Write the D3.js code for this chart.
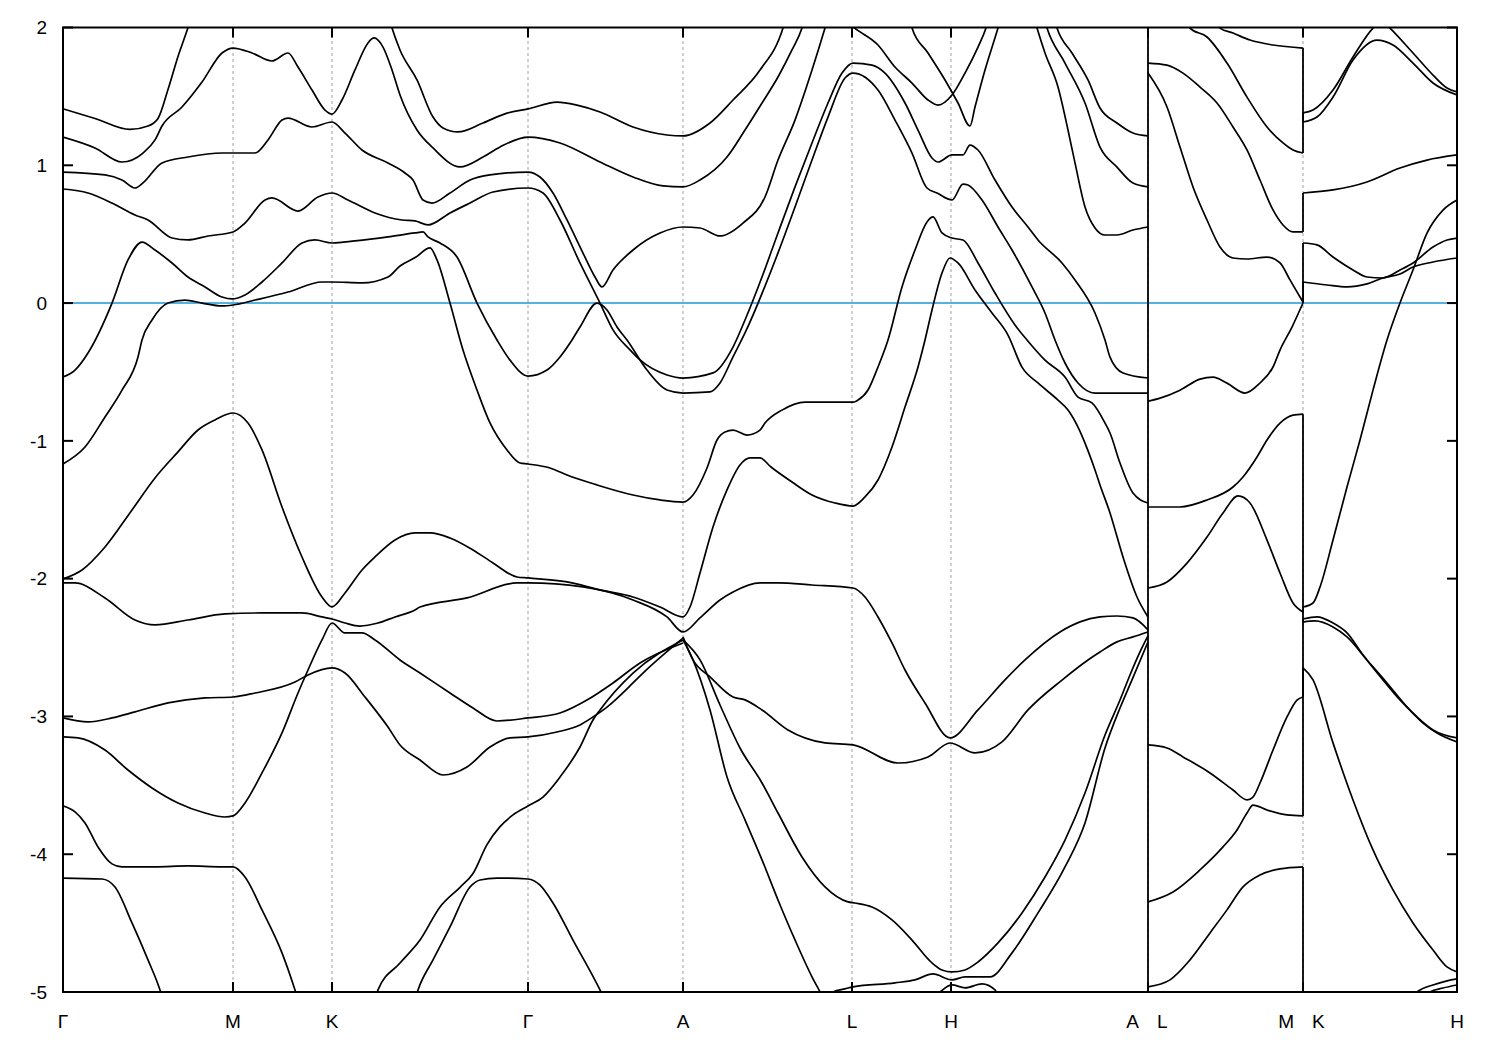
<!DOCTYPE html>
<html><head><meta charset="utf-8">
<script src="https://cdn.jsdelivr.net/npm/d3@7"></script>
<style>body{margin:0;background:#fff}svg{display:block}</style>
</head><body><svg id="chart" width="1500" height="1050"></svg>
<script>
// high-symmetry points along the k-path
const kTicks = [0, 0.170, 0.269, 0.465, 0.620, 0.789, 0.888, 1.085, 1.240, 1.394];
const kLabels = ["Γ", "M", "K", "Γ", "A", "L", "H", "A|L", "M|K", "H"];
const eTicks = [-5, -4, -3, -2, -1, 0, 1, 2];
const eRange = [-5, 2];
const breakFull = [1.085];           // A|L discontinuity
// jumps at the M|K discontinuity: [E at M, E at K]
const mkJumps = [[1.851,1.314],[1.089,1.380],[0.516,0.799],[0.008,0.436],[0.001,0.153],[-0.806,-2.315],[-2.242,-2.206],[-2.859,-2.648],[-3.722,-2.293],[-4.092,-5.3]];

// Γ-M-K-Γ-A-L-H-A bands  [k, E]
const gA01 = [[0,1.41],[.032,1.34],[.067,1.26],[.085,1.285],[.095,1.34],[.105,1.55],[.115,1.79],[.125,2.0],[.128,2.07]];
const gA02 = [[0,1.205],[.032,1.126],[.059,1.024],[.080,1.089],[.092,1.184],[.099,1.285],[.119,1.423],[.139,1.604],[.159,1.815],[.170,1.851],[.189,1.815],[.209,1.757],[.225,1.815],[.235,1.713],[.249,1.546],[.262,1.401],[.269,1.372],[.279,1.474],[.292,1.692],[.305,1.888],[.311,1.924],[.320,1.858],[.329,1.692],[.337,1.510],[.354,1.256],[.370,1.126],[.397,0.988],[.420,1.060],[.437,1.133],[.465,1.205],[.497,1.162],[.537,1.024],[.570,0.915],[.600,0.850],[.620,0.843],[.637,0.893],[.664,1.060],[.682,1.256],[.699,1.452],[.715,1.641],[.729,1.837],[.739,1.996],[.742,2.07]];
const gA03 = [[0,0.951],[.042,0.930],[.059,0.893],[.072,0.835],[.080,0.872],[.099,1.017],[.125,1.060],[.159,1.089],[.170,1.089],[.192,1.089],[.205,1.184],[.219,1.329],[.225,1.343],[.249,1.278],[.269,1.314],[.282,1.234],[.299,1.111],[.325,1.017],[.342,0.944],[.350,0.893],[.360,0.748],[.369,0.726],[.387,0.799],[.407,0.893],[.427,0.930],[.465,0.951],[.477,0.915],[.490,0.799],[.504,0.603],[.520,0.363],[.532,0.189],[.539,0.117],[.550,0.240],[.570,0.385],[.597,0.508],[.620,0.552],[.637,0.545],[.657,0.487],[.680,0.581],[.702,0.770],[.715,1.038],[.732,1.328],[.749,1.691],[.762,1.996],[.765,2.07]];
const gA04 = [[0,0.828],[.025,0.799],[.049,0.726],[.072,0.639],[.085,0.603],[.109,0.472],[.125,0.458],[.145,0.487],[.170,0.516],[.182,0.581],[.202,0.748],[.209,0.763],[.235,0.668],[.255,0.770],[.269,0.799],[.285,0.748],[.312,0.654],[.339,0.603],[.352,0.596],[.365,0.567],[.387,0.654],[.407,0.726],[.430,0.806],[.465,0.835],[.480,0.799],[.497,0.603],[.517,0.291],[.537,0.0],[.550,-0.195],[.567,-0.340],[.577,-0.413],[.604,-0.522],[.620,-0.544],[.650,-0.507],[.670,-0.319],[.682,-0.123],[.699,0.189],[.715,0.509],[.732,0.843],[.749,1.162],[.765,1.452],[.779,1.669],[.790,1.742],[.809,1.727],[.822,1.669],[.842,1.452],[.855,1.256],[.869,1.053],[.875,1.024],[.889,1.075],[.900,1.075],[.907,1.147],[.915,1.111],[.932,0.893],[.949,0.697],[.965,0.552],[.975,0.458],[.999,0.291],[1.012,0.168],[1.032,-0.072],[1.042,-0.268],[1.047,-0.392],[1.060,-0.507],[1.085,-0.544]];
const gA05 = [[0,-0.536],[.012,-0.486],[.025,-0.362],[.049,0.0],[.065,0.313],[.079,0.443],[.092,0.385],[.109,0.291],[.125,0.189],[.142,0.117],[.159,0.044],[.169,0.030],[.182,0.059],[.199,0.153],[.219,0.291],[.239,0.436],[.252,0.458],[.269,0.436],[.292,0.451],[.325,0.480],[.352,0.509],[.360,0.516],[.365,0.480],[.377,0.436],[.394,0.334],[.414,0.0],[.434,-0.268],[.447,-0.414],[.465,-0.530],[.484,-0.486],[.497,-0.391],[.509,-0.268],[.517,-0.174],[.534,0.0],[.544,-0.050],[.554,-0.174],[.564,-0.268],[.584,-0.486],[.604,-0.631],[.620,-0.653],[.647,-0.645],[.657,-0.580],[.670,-0.391],[.682,-0.217],[.715,0.364],[.732,0.697],[.749,1.038],[.765,1.350],[.782,1.633],[.790,1.669],[.815,1.546],[.832,1.328],[.849,1.089],[.864,0.835],[.874,0.799],[.889,0.748],[.900,0.864],[.905,0.857],[.919,0.748],[.935,0.552],[.949,0.385],[.969,0.117],[.982,-0.072],[.992,-0.268],[1.002,-0.435],[1.015,-0.580],[1.032,-0.653],[1.085,-0.653]];
const gA06 = [[0,-1.168],[.022,-1.045],[.042,-0.827],[.059,-0.632],[.075,-0.392],[.079,-0.268],[.089,-0.123],[.105,0.0],[.122,0.022],[.139,0.0],[.159,-0.021],[.170,-0.014],[.192,0.022],[.225,0.080],[.259,0.153],[.269,0.153],[.299,0.146],[.325,0.189],[.337,0.269],[.353,0.334],[.367,0.400],[.374,0.313],[.387,0.0],[.400,-0.341],[.414,-0.631],[.427,-0.870],[.444,-1.066],[.457,-1.161],[.465,-1.168],[.487,-1.197],[.504,-1.248],[.534,-1.320],[.570,-1.393],[.597,-1.429],[.620,-1.444],[.630,-1.393],[.644,-1.197],[.654,-0.994],[.662,-0.936],[.670,-0.922],[.684,-0.958],[.697,-0.922],[.702,-0.871],[.719,-0.777],[.742,-0.719],[.765,-0.719],[.790,-0.719],[.795,-0.704],[.805,-0.631],[.815,-0.464],[.825,-0.268],[.839,0.117],[.852,0.385],[.864,0.589],[.870,0.625],[.879,0.509],[.889,0.472],[.900,0.458],[.915,0.291],[.932,0.073],[.952,-0.159],[.964,-0.268],[.982,-0.414],[1.002,-0.537],[1.015,-0.682],[1.029,-0.725],[1.042,-0.871],[1.047,-0.943],[1.057,-1.161],[1.070,-1.379],[1.085,-1.451]];
const gA07 = [[0,-2.002],[.019,-1.937],[.042,-1.770],[.069,-1.501],[.092,-1.269],[.115,-1.080],[.135,-0.921],[.152,-0.848],[.170,-0.798],[.185,-0.871],[.199,-1.066],[.219,-1.480],[.239,-1.843],[.259,-2.133],[.269,-2.205],[.282,-2.104],[.299,-1.937],[.312,-1.842],[.332,-1.719],[.352,-1.668],[.367,-1.668],[.387,-1.705],[.410,-1.792],[.430,-1.886],[.454,-1.988],[.465,-1.995],[.504,-2.024],[.537,-2.082],[.570,-2.133],[.597,-2.206],[.620,-2.278],[.627,-2.206],[.637,-1.959],[.650,-1.625],[.664,-1.356],[.677,-1.175],[.687,-1.124],[.697,-1.124],[.708,-1.190],[.729,-1.299],[.749,-1.393],[.772,-1.451],[.790,-1.473],[.802,-1.407],[.815,-1.284],[.829,-1.045],[.842,-0.755],[.855,-0.464],[.862,-0.268],[.869,-0.050],[.879,0.218],[.887,0.327],[.895,0.291],[.912,0.095],[.929,-0.072],[.945,-0.232],[.959,-0.465],[.975,-0.580],[.995,-0.704],[1.005,-0.776],[1.015,-0.900],[1.022,-1.016],[1.032,-1.211],[1.037,-1.320],[1.047,-1.523],[1.060,-1.843],[1.074,-2.133],[1.085,-2.278]];
const gA08 = [[0,-2.031],[.012,-2.031],[.042,-2.140],[.072,-2.300],[.092,-2.336],[.125,-2.300],[.162,-2.256],[.199,-2.249],[.239,-2.249],[.259,-2.278],[.269,-2.293],[.282,-2.322],[.297,-2.344],[.315,-2.322],[.332,-2.278],[.352,-2.227],[.357,-2.206],[.404,-2.140],[.454,-2.031],[.465,-2.031],[.520,-2.060],[.570,-2.155],[.604,-2.278],[.620,-2.387],[.637,-2.285],[.657,-2.155],[.670,-2.097],[.697,-2.031],[.715,-2.031],[.749,-2.046],[.790,-2.068],[.802,-2.133],[.815,-2.278],[.829,-2.467],[.842,-2.663],[.862,-2.902],[.887,-3.156],[.915,-2.953],[.942,-2.735],[.962,-2.590],[.997,-2.387],[1.017,-2.314],[1.037,-2.278],[1.054,-2.271],[1.070,-2.285],[1.085,-2.372]];
const gA09 = [[0,-3.149],[.015,-3.156],[.042,-3.244],[.065,-3.389],[.089,-3.519],[.115,-3.628],[.142,-3.701],[.162,-3.730],[.170,-3.722],[.182,-3.628],[.199,-3.410],[.219,-3.120],[.235,-2.830],[.245,-2.663],[.259,-2.445],[.269,-2.322],[.282,-2.394],[.299,-2.394],[.312,-2.445],[.337,-2.590],[.357,-2.685],[.387,-2.830],[.410,-2.939],[.434,-3.033],[.465,-3.011],[.497,-2.975],[.524,-2.881],[.550,-2.757],[.577,-2.612],[.620,-2.467]];
const gA10 = [[0,-3.011],[.025,-3.040],[.049,-3.011],[.072,-2.967],[.105,-2.902],[.142,-2.866],[.170,-2.859],[.192,-2.830],[.232,-2.750],[.245,-2.699],[.269,-2.648],[.282,-2.685],[.302,-2.859],[.325,-3.077],[.337,-3.207],[.357,-3.316],[.380,-3.425],[.404,-3.367],[.427,-3.222],[.447,-3.156],[.465,-3.149],[.494,-3.113],[.517,-3.062],[.530,-3.004],[.544,-2.932],[.570,-2.757],[.580,-2.685],[.620,-2.431]];
const gA11 = [[0,-3.649],[.012,-3.693],[.022,-3.773],[.035,-3.947],[.049,-4.070],[.059,-4.092],[.092,-4.092],[.125,-4.085],[.159,-4.092],[.170,-4.092],[.182,-4.165],[.199,-4.404],[.219,-4.716],[.232,-4.985],[.234,-5.03]];
const gA12 = [[0,-4.173],[.039,-4.180],[.052,-4.238],[.069,-4.499],[.085,-4.767],[.097,-4.985],[.099,-5.03]];
const gA13 = [[.313,-5.03],[.315,-4.985],[.337,-4.790],[.357,-4.623],[.377,-4.383],[.397,-4.240],[.410,-4.140],[.424,-3.930],[.437,-3.800],[.450,-3.715],[.465,-3.650],[.480,-3.585],[.497,-3.440],[.517,-3.222],[.530,-3.026],[.537,-2.953],[.570,-2.685],[.620,-2.445]];
const gA14 = [[.353,-5.03],[.355,-4.985],[.370,-4.767],[.387,-4.528],[.407,-4.238],[.417,-4.187],[.434,-4.173],[.465,-4.180],[.477,-4.224],[.490,-4.354],[.510,-4.623],[.537,-4.985],[.540,-5.03]];
const gA15 = [[.620,-2.423],[.630,-2.590],[.647,-2.713],[.670,-2.859],[.682,-2.880],[.699,-2.953],[.725,-3.098],[.762,-3.192],[.790,-3.207],[.835,-3.338],[.865,-3.294],[.887,-3.193],[.912,-3.265],[.939,-3.185],[.965,-2.953],[.999,-2.736],[1.025,-2.590],[1.037,-2.532],[1.054,-2.459],[1.070,-2.423],[1.085,-2.387]];
const gA16 = [[.620,-2.445],[.637,-2.590],[.657,-2.917],[.677,-3.229],[.699,-3.483],[.715,-3.701],[.739,-4.020],[.762,-4.237],[.785,-4.346],[.792,-4.354],[.809,-4.383],[.829,-4.477],[.849,-4.623],[.869,-4.789],[.879,-4.840],[.889,-4.854],[.902,-4.840],[.915,-4.782],[.935,-4.644],[.959,-4.426],[.982,-4.165],[1.002,-3.897],[1.022,-3.556],[1.042,-3.135],[1.057,-2.881],[1.067,-2.699],[1.077,-2.532],[1.085,-2.416]];
const gA17 = [[.620,-2.445],[.630,-2.590],[.647,-2.953],[.664,-3.439],[.682,-3.751],[.699,-4.041],[.715,-4.332],[.732,-4.622],[.749,-4.890],[.757,-4.999],[.760,-5.04]];
const gA18 = [[.767,-5.03],[.770,-5.00],[.782,-4.977],[.790,-4.963],[.832,-4.934],[.852,-4.912],[.870,-4.869],[.889,-4.912],[.902,-4.890],[.915,-4.890],[.927,-4.890],[.949,-4.716],[.975,-4.426],[1.002,-4.092],[1.022,-3.773],[1.042,-3.229],[1.057,-2.939],[1.069,-2.735],[1.085,-2.459]];
const gA19 = [[.872,-5.03],[.877,-5.00],[.889,-4.949],[.902,-4.970],[.919,-4.941],[.932,-4.985],[.935,-5.03]];
const gA20 = [[.326,2.07],[.329,1.996],[.337,1.837],[.354,1.619],[.370,1.350],[.380,1.271],[.395,1.242],[.420,1.307],[.444,1.379],[.465,1.409],[.494,1.459],[.514,1.437],[.537,1.387],[.570,1.278],[.604,1.220],[.620,1.213],[.647,1.307],[.670,1.474],[.697,1.691],[.720,1.996],[.723,2.07]];
const gA21 = [[.782,2.054],[.790,2.004],[.815,1.873],[.832,1.713],[.849,1.597],[.865,1.474],[.875,1.437],[.889,1.510],[.902,1.669],[.915,1.858],[.923,1.996],[.926,2.07]];
const gA22 = [[.846,2.07],[.849,1.996],[.865,1.815],[.882,1.619],[.895,1.452],[.907,1.285],[.912,1.423],[.922,1.691],[.935,1.996],[.938,2.07]];
const gA23 = [[.991,2.07],[.994,1.996],[1.009,1.815],[1.025,1.619],[1.037,1.416],[1.054,1.307],[1.070,1.234],[1.085,1.213]];
const gA24 = [[.971,2.07],[.974,1.996],[.982,1.815],[.995,1.568],[1.005,1.256],[1.012,1.017],[1.022,0.697],[1.032,0.545],[1.042,0.494],[1.054,0.494],[1.070,0.530],[1.085,0.552]];
const gA25 = [[.981,2.07],[.984,1.996],[1.002,1.742],[1.022,1.452],[1.037,1.132],[1.054,0.987],[1.070,0.871],[1.085,0.843]];

// L-M bands
const gB01 = [[1.085,1.742],[1.104,1.727],[1.120,1.669],[1.137,1.568],[1.154,1.452],[1.170,1.278],[1.184,1.111],[1.197,0.893],[1.210,0.676],[1.220,0.567],[1.230,0.516],[1.240,0.516]];
const gB02 = [[1.085,1.669],[1.104,1.423],[1.117,1.133],[1.130,0.843],[1.144,0.603],[1.157,0.407],[1.170,0.327],[1.184,0.320],[1.204,0.334],[1.217,0.291],[1.227,0.168],[1.237,0.044],[1.240,0.008]];
const gB03 = [[1.124,2.07],[1.127,1.996],[1.144,1.931],[1.164,1.742],[1.184,1.495],[1.204,1.278],[1.220,1.162],[1.230,1.111],[1.240,1.089]];
const gB04 = [[1.152,2.04],[1.157,1.996],[1.170,1.960],[1.187,1.909],[1.210,1.873],[1.240,1.851]];
const gB05 = [[1.085,-0.712],[1.097,-0.690],[1.117,-0.632],[1.137,-0.552],[1.150,-0.537],[1.164,-0.581],[1.182,-0.653],[1.197,-0.580],[1.210,-0.464],[1.217,-0.341],[1.229,-0.174],[1.240,0.001]];
const gB06 = [[1.085,-1.480],[1.117,-1.480],[1.144,-1.429],[1.170,-1.335],[1.180,-1.262],[1.194,-1.117],[1.204,-0.994],[1.217,-0.871],[1.230,-0.813],[1.240,-0.806]];
const gB07 = [[1.085,-2.068],[1.104,-2.024],[1.124,-1.887],[1.144,-1.698],[1.160,-1.524],[1.175,-1.400],[1.187,-1.451],[1.204,-1.720],[1.217,-1.959],[1.230,-2.177],[1.240,-2.242]];
const gB08 = [[1.085,-3.207],[1.104,-3.229],[1.120,-3.294],[1.147,-3.410],[1.170,-3.534],[1.184,-3.606],[1.190,-3.585],[1.197,-3.483],[1.210,-3.244],[1.224,-3.004],[1.234,-2.881],[1.240,-2.859]];
const gB09 = [[1.085,-4.346],[1.110,-4.274],[1.137,-4.114],[1.160,-3.947],[1.174,-3.824],[1.184,-3.701],[1.190,-3.643],[1.204,-3.679],[1.224,-3.715],[1.240,-3.722]];
const gB10 = [[1.085,-4.963],[1.107,-4.912],[1.127,-4.767],[1.147,-4.571],[1.164,-4.404],[1.180,-4.237],[1.197,-4.150],[1.217,-4.107],[1.240,-4.092]];

// K-H bands
const gC01 = [[1.240,1.380],[1.250,1.401],[1.270,1.546],[1.290,1.786],[1.310,1.996],[1.319,2.05],[1.327,1.996],[1.350,1.815],[1.370,1.655],[1.384,1.561],[1.394,1.532]];
const gC02 = [[1.240,1.314],[1.254,1.350],[1.270,1.495],[1.290,1.764],[1.314,1.909],[1.330,1.873],[1.350,1.742],[1.370,1.597],[1.394,1.510]];
const gC03 = [[1.240,0.799],[1.270,0.821],[1.304,0.879],[1.337,0.980],[1.364,1.038],[1.394,1.075]];
const gC04 = [[1.240,0.436],[1.254,0.422],[1.270,0.334],[1.290,0.240],[1.304,0.189],[1.320,0.182],[1.337,0.240],[1.350,0.291],[1.370,0.407],[1.384,0.458],[1.394,0.472]];
const gC05 = [[1.240,0.153],[1.264,0.131],[1.284,0.117],[1.304,0.139],[1.320,0.182],[1.337,0.211],[1.350,0.262],[1.370,0.298],[1.394,0.327]];
const gC06 = [[1.240,-2.206],[1.250,-2.177],[1.257,-2.061],[1.270,-1.720],[1.284,-1.335],[1.297,-0.994],[1.310,-0.632],[1.324,-0.268],[1.337,0.001],[1.350,0.240],[1.364,0.508],[1.380,0.675],[1.394,0.748]];
const gC07 = [[1.240,-2.293],[1.254,-2.278],[1.270,-2.322],[1.284,-2.394],[1.300,-2.554],[1.320,-2.735],[1.337,-2.881],[1.354,-3.004],[1.370,-3.098],[1.394,-3.156]];
const gC08 = [[1.240,-2.315],[1.252,-2.307],[1.270,-2.351],[1.284,-2.423],[1.304,-2.590],[1.324,-2.757],[1.344,-2.931],[1.360,-3.048],[1.374,-3.120],[1.394,-3.185]];
const gC09 = [[1.240,-2.648],[1.250,-2.735],[1.270,-3.192],[1.290,-3.606],[1.310,-3.969],[1.330,-4.259],[1.350,-4.499],[1.370,-4.695],[1.384,-4.818],[1.394,-4.854]];
const gC10 = [[1.351,-5.03],[1.354,-5.00],[1.370,-4.949],[1.384,-4.919],[1.394,-4.905]];
const gC11 = [[1.364,-5.03],[1.367,-5.00],[1.380,-4.971],[1.394,-4.949]];

const bands = [gA01,gA02,gA03,gA04,gA05,gA06,gA07,gA08,gA09,gA10,gA11,gA12,gA13,gA14,gA15,gA16,gA17,gA18,gA19,gA20,gA21,gA22,gA23,gA24,gA25,
  gB01,gB02,gB03,gB04,gB05,gB06,gB07,gB08,gB09,gB10,
  gC01,gC02,gC03,gC04,gC05,gC06,gC07,gC08,gC09,gC10,gC11];

// ---------- drawing ----------
const svg = d3.select("#chart");
const M = {l: 63, r: 43, t: 27.5, b: 58};
const W = 1500, H = 1050;
const x = d3.scaleLinear().domain(d3.extent(kTicks)).range([M.l, W - M.r]);
const y = d3.scaleLinear().domain(eRange).range([H - M.b, M.t]);
const font = "'Liberation Sans', Arial, Helvetica, sans-serif";

svg.append("rect").attr("width", W).attr("height", H).attr("fill", "#fff");
svg.append("defs").append("clipPath").attr("id", "clip")
  .append("rect").attr("x", x.range()[0]).attr("y", y.range()[1])
  .attr("width", x.range()[1] - x.range()[0]).attr("height", y.range()[0] - y.range()[1]);

const plot = svg.append("g").attr("clip-path", "url(#clip)");

// vertical dashed grid at high-symmetry points
plot.selectAll("line.grid").data(kTicks.slice(1, -1)).join("line")
  .attr("class", "grid")
  .attr("x1", d => x(d)).attr("x2", d => x(d))
  .attr("y1", y.range()[0]).attr("y2", y.range()[1])
  .attr("stroke", "#a0a0a0").attr("stroke-width", 1).attr("stroke-dasharray", "3,3");

// Fermi level
plot.append("line")
  .attr("x1", x.range()[0]).attr("x2", x.range()[1])
  .attr("y1", y(0)).attr("y2", y(0))
  .attr("stroke", "#56b1e3").attr("stroke-width", 2);

// bands
const line = d3.line().x(d => x(d[0])).y(d => y(d[1])).curve(d3.curveMonotoneX);
plot.selectAll("path.band").data(bands).join("path")
  .attr("class", "band").attr("d", line)
  .attr("fill", "none").attr("stroke", "#000").attr("stroke-width", 1.7)
  .attr("stroke-linejoin", "round");

// discontinuities
plot.selectAll("line.brk").data(breakFull).join("line")
  .attr("class", "brk")
  .attr("x1", d => x(d)).attr("x2", d => x(d))
  .attr("y1", y.range()[0]).attr("y2", y.range()[1])
  .attr("stroke", "#000").attr("stroke-width", 1.8);
plot.selectAll("line.jump").data(mkJumps).join("line")
  .attr("class", "jump")
  .attr("x1", x(kTicks[8])).attr("x2", x(kTicks[8]))
  .attr("y1", d => y(d[0])).attr("y2", d => y(d[1]))
  .attr("stroke", "#000").attr("stroke-width", 1.8);

// frame
const fr = svg.append("g");
fr.append("rect").attr("x", x.range()[0]).attr("y", y.range()[1])
  .attr("width", x.range()[1] - x.range()[0]).attr("height", y.range()[0] - y.range()[1])
  .attr("fill", "none").attr("stroke", "#000").attr("stroke-width", 2);

// ticks (inward, mirrored)
const tl = 10;
eTicks.forEach(e => {
  fr.append("line").attr("x1", x.range()[0]).attr("x2", x.range()[0] + tl)
    .attr("y1", y(e)).attr("y2", y(e)).attr("stroke", "#000").attr("stroke-width", 2);
  fr.append("line").attr("x1", x.range()[1]).attr("x2", x.range()[1] - tl)
    .attr("y1", y(e)).attr("y2", y(e)).attr("stroke", "#000").attr("stroke-width", 2);
});
kTicks.forEach(k => {
  fr.append("line").attr("x1", x(k)).attr("x2", x(k))
    .attr("y1", y.range()[0]).attr("y2", y.range()[0] - tl).attr("stroke", "#000").attr("stroke-width", 2);
  fr.append("line").attr("x1", x(k)).attr("x2", x(k))
    .attr("y1", y.range()[1]).attr("y2", y.range()[1] + tl).attr("stroke", "#000").attr("stroke-width", 2);
});

// tick labels
fr.selectAll("text.ylab").data(eTicks).join("text")
  .attr("class", "ylab")
  .attr("x", x.range()[0] - 16).attr("y", d => y(d))
  .attr("dy", "0.36em").attr("text-anchor", "end")
  .attr("font-family", font).attr("font-size", 19)
  .text(d => d);

kTicks.forEach((k, i) => {
  const parts = kLabels[i].split("|");
  const ly = y.range()[0] + 36;
  if (parts.length === 1) {
    fr.append("text").attr("x", x(k)).attr("y", ly).attr("text-anchor", "middle")
      .attr("font-family", font).attr("font-size", 19).text(parts[0]);
  } else {
    fr.append("text").attr("x", x(k) - 9).attr("y", ly).attr("text-anchor", "end")
      .attr("font-family", font).attr("font-size", 19).text(parts[0]);
    fr.append("text").attr("x", x(k) + 9).attr("y", ly).attr("text-anchor", "start")
      .attr("font-family", font).attr("font-size", 19).text(parts[1]);
  }
});
</script>
</body></html>
